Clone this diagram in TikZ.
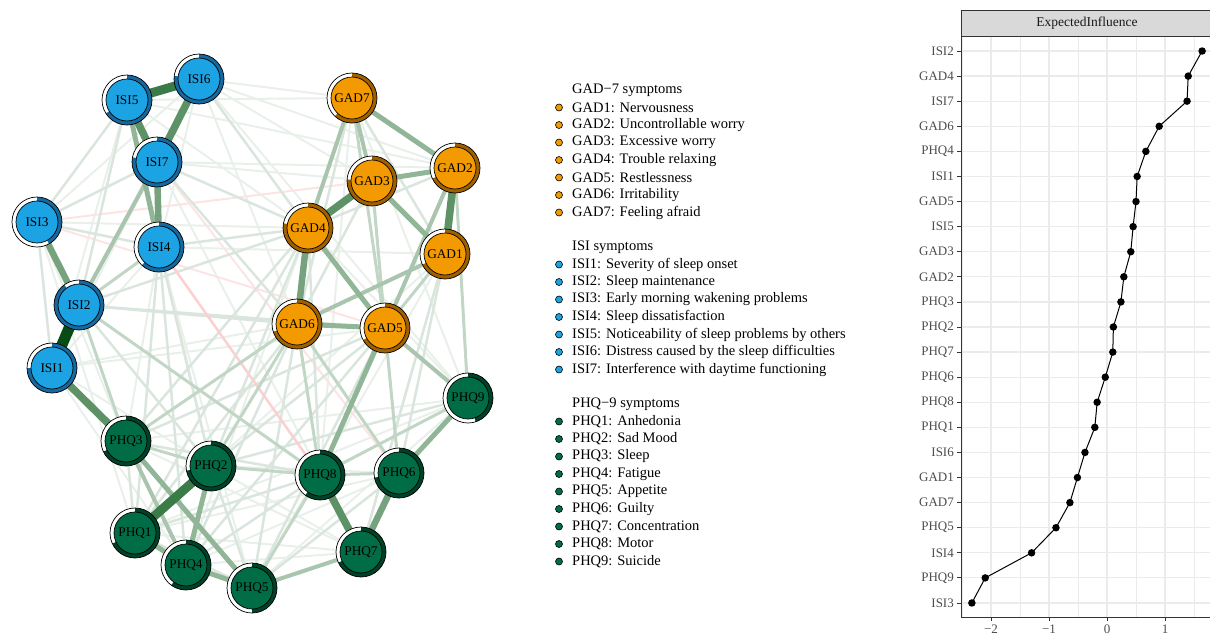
\documentclass[tikz,border=0pt]{standalone}
\usepackage{fontspec}
\setmainfont{Liberation Serif}
\pgfdeclarelayer{edges}
\pgfsetlayers{edges,main}
\definecolor{isiF}{RGB}{28,163,227}
\definecolor{isiA}{RGB}{22,104,160}
\definecolor{gadF}{RGB}{242,154,0}
\definecolor{gadA}{RGB}{160,96,0}
\definecolor{phqF}{RGB}{0,109,70}
\definecolor{phqA}{RGB}{0,66,40}
\definecolor{eg}{RGB}{10,90,25}
\definecolor{er}{RGB}{240,60,60}
\definecolor{gridc}{RGB}{235,235,235}
\definecolor{stripc}{RGB}{217,217,217}
\definecolor{axc}{RGB}{51,51,51}
\definecolor{labc}{RGB}{77,77,77}
\newcommand\netnode[7]{%
  \fill[white] (#2,#3) circle (25);
  \fill[#5] (#2,#3) -- ++(-90:25) arc[start angle=-90, delta angle={360*#6}, radius=25] -- cycle;
  \draw[line width=0.7pt] (#2,#3) circle (25);
  \node[netnd, fill=#4] (#1) at (#2,#3) {#7};
}
\tikzset{
  netnd/.style={circle, draw, line width=0.7pt, minimum size=42pt, inner sep=0pt, font=\fontsize{13.3}{13.3}\selectfont},
  ew1/.style={line width=2pt, eg!9!white},
  ew2/.style={line width=2.5pt, eg!15!white},
  ew3/.style={line width=3pt, eg!25!white},
  ew4/.style={line width=4pt, eg!35!white},
  ew5/.style={line width=5pt, eg!45!white},
  ew6/.style={line width=6.5pt, eg!56!white},
  ew7/.style={line width=7.5pt, eg!66!white},
  ew8/.style={line width=9pt, eg!80!white},
  ew9/.style={line width=11pt, eg!85!black},
  er1/.style={line width=2pt, er!14!white},
  er2/.style={line width=2.5pt, er!24!white},
  legtxt/.style={anchor=west, inner sep=0pt, font=\fontsize{14.5}{14.5}\selectfont},
  bul/.style={circle, draw, line width=0.6pt, minimum size=7pt, inner sep=0pt},
  ylab/.style={anchor=east, inner sep=0pt, text=labc, font=\fontsize{13}{13}\selectfont},
  ptd/.style={circle, fill=black, minimum size=7.5pt, inner sep=0pt},
}
\begin{document}
\begin{tikzpicture}[x=1pt, y=-1pt]
\useasboundingbox (0,0) rectangle (1210,635);
% ---------- network nodes ----------
\netnode{ISI1}{52}{368}{isiF}{isiA}{0.75}{ISI1}
\netnode{ISI2}{79}{305}{isiF}{isiA}{0.90}{ISI2}
\netnode{ISI3}{37}{222}{isiF}{isiA}{0.42}{ISI3}
\netnode{ISI4}{159}{247}{isiF}{isiA}{0.62}{ISI4}
\netnode{ISI5}{127}{100}{isiF}{isiA}{0.66}{ISI5}
\netnode{ISI6}{199}{79}{isiF}{isiA}{0.77}{ISI6}
\netnode{ISI7}{157}{162}{isiF}{isiA}{0.78}{ISI7}
\netnode{GAD1}{445}{254}{gadF}{gadA}{0.68}{GAD1}
\netnode{GAD2}{455}{168}{gadF}{gadA}{0.68}{GAD2}
\netnode{GAD3}{372}{181}{gadF}{gadA}{0.76}{GAD3}
\netnode{GAD4}{308}{228}{gadF}{gadA}{0.78}{GAD4}
\netnode{GAD5}{385}{328}{gadF}{gadA}{0.67}{GAD5}
\netnode{GAD6}{297}{324}{gadF}{gadA}{0.70}{GAD6}
\netnode{GAD7}{352}{98}{gadF}{gadA}{0.62}{GAD7}
\netnode{PHQ1}{135}{533}{phqF}{phqA}{0.68}{PHQ1}
\netnode{PHQ2}{211}{466}{phqF}{phqA}{0.72}{PHQ2}
\netnode{PHQ3}{126}{441}{phqF}{phqA}{0.68}{PHQ3}
\netnode{PHQ4}{186}{565}{phqF}{phqA}{0.60}{PHQ4}
\netnode{PHQ5}{252}{588}{phqF}{phqA}{0.50}{PHQ5}
\netnode{PHQ6}{399}{473}{phqF}{phqA}{0.72}{PHQ6}
\netnode{PHQ7}{361}{552}{phqF}{phqA}{0.68}{PHQ7}
\netnode{PHQ8}{320}{475}{phqF}{phqA}{0.60}{PHQ8}
\netnode{PHQ9}{468}{398}{phqF}{phqA}{0.45}{PHQ9}
% ---------- edges ----------
\begin{pgfonlayer}{edges}
\foreach \a/\b in {ISI1/ISI4, ISI1/ISI5, ISI1/ISI7, ISI2/ISI6, ISI4/ISI6, ISI3/ISI6, ISI6/GAD7, ISI6/GAD3, ISI6/GAD2, ISI5/GAD7, ISI5/GAD4, ISI7/GAD2, ISI7/GAD3, ISI4/GAD1, ISI3/GAD4, ISI1/GAD5, ISI1/GAD6, ISI1/PHQ2, ISI1/PHQ4, ISI4/PHQ5, ISI4/PHQ3, ISI3/PHQ3, ISI3/PHQ1, ISI6/PHQ9, ISI5/PHQ2, ISI7/PHQ7, PHQ1/PHQ7, PHQ1/PHQ6, PHQ4/PHQ6, PHQ4/PHQ7, PHQ2/PHQ7, PHQ2/PHQ6, PHQ3/PHQ9, PHQ1/PHQ9, PHQ5/PHQ9, PHQ3/PHQ7, GAD7/PHQ9, GAD7/PHQ8, GAD3/PHQ6, GAD4/PHQ9, GAD1/PHQ7, GAD2/PHQ8, PHQ5/GAD1, PHQ1/GAD1, PHQ4/GAD4, ISI5/GAD2, ISI6/GAD6}
  \draw[ew1] (\a) -- (\b);
\foreach \a/\b in {ISI3/GAD3, ISI7/PHQ6, ISI3/GAD5}
  \draw[er1] (\a) -- (\b);
\foreach \a/\b in {ISI3/ISI5, ISI3/ISI1, ISI3/ISI7, ISI3/ISI4, ISI2/ISI5, ISI2/GAD4, ISI2/GAD6, ISI2/GAD5, ISI2/PHQ2, ISI4/GAD4, ISI7/GAD4, ISI7/GAD6, ISI4/PHQ1, ISI4/PHQ2, ISI4/PHQ4, PHQ1/PHQ5, PHQ1/PHQ8, PHQ4/PHQ8, PHQ2/PHQ5, PHQ5/PHQ6, PHQ2/PHQ9, PHQ3/PHQ8, PHQ3/PHQ1, PHQ1/GAD4, PHQ1/GAD6, PHQ4/GAD6, PHQ4/GAD5, PHQ5/GAD5, PHQ5/GAD6, PHQ2/GAD4, PHQ2/GAD5, PHQ7/GAD1, PHQ6/GAD1, PHQ8/GAD4, PHQ3/GAD4, PHQ3/GAD5, GAD4/GAD2, GAD6/GAD3, GAD7/GAD1, GAD7/GAD6, ISI6/GAD4}
  \draw[ew2] (\a) -- (\b);
\foreach \a/\b in {ISI4/PHQ8}
  \draw[er2] (\a) -- (\b);
\foreach \a/\b in {ISI2/ISI4, ISI2/PHQ3, ISI2/PHQ8, PHQ2/PHQ8, PHQ3/PHQ2, PHQ8/PHQ6, PHQ5/PHQ8, PHQ3/GAD6, GAD2/PHQ9, GAD7/GAD5, GAD1/GAD5, GAD3/GAD5, GAD6/PHQ6, GAD5/PHQ6, PHQ2/GAD6, PHQ8/GAD6, PHQ9/PHQ8}
  \draw[ew3] (\a) -- (\b);
\foreach \a/\b in {GAD7/GAD4, GAD7/GAD3, GAD6/GAD1, GAD2/GAD5, ISI2/ISI7, PHQ3/PHQ4, PHQ5/PHQ7, GAD5/PHQ9}
  \draw[ew4] (\a) -- (\b);
\foreach \a/\b in {ISI5/ISI4, GAD7/GAD2, GAD3/GAD2, GAD3/GAD1, GAD4/GAD5, GAD6/GAD5, GAD5/PHQ8, PHQ2/PHQ4, PHQ1/PHQ4, PHQ4/PHQ5, PHQ3/PHQ5, PHQ9/PHQ6}
  \draw[ew5] (\a) -- (\b);
\foreach \a/\b in {ISI7/ISI4, ISI3/ISI2, GAD4/GAD6, PHQ6/PHQ7}
  \draw[ew6] (\a) -- (\b);
\foreach \a/\b in {ISI6/ISI7, ISI5/ISI7, ISI1/PHQ3, GAD2/GAD1, GAD3/GAD4, PHQ8/PHQ7}
  \draw[ew7] (\a) -- (\b);
\foreach \a/\b in {ISI5/ISI6, PHQ2/PHQ1}
  \draw[ew8] (\a) -- (\b);
\draw[ew9] (ISI2) -- (ISI1);
\end{pgfonlayer}
% ---------- legend ----------
\node[legtxt] (tg) at (572,90) {GAD−7 symptoms};
\foreach \t [count=\i] in {GAD1: Nervousness, GAD2: Uncontrollable worry, GAD3: Excessive worry, GAD4: Trouble relaxing, GAD5: Restlessness, GAD6: Irritability, GAD7: Feeling afraid} {
  \node[legtxt] (lg\i) at (572,{90+17.5*\i}) {\t};
  \node[bul, fill=gadF] (bg\i) at (559,{90+17.5*\i}) {};
}
\node[legtxt] (ti) at (572,247) {ISI symptoms};
\foreach \t [count=\i] in {ISI1: Severity of sleep onset, ISI2: Sleep maintenance, ISI3: Early morning wakening problems, ISI4: Sleep dissatisfaction, ISI5: Noticeability of sleep problems by others, ISI6: Distress caused by the sleep difficulties, ISI7: Interference with daytime functioning} {
  \node[legtxt] (li\i) at (572,{247+17.5*\i}) {\t};
  \node[bul, fill=isiF] (bi\i) at (559,{247+17.5*\i}) {};
}
\node[legtxt] (tp) at (572,404) {PHQ−9 symptoms};
\foreach \t [count=\i] in {PHQ1: Anhedonia, PHQ2: Sad Mood, PHQ3: Sleep, PHQ4: Fatigue, PHQ5: Appetite, PHQ6: Guilty, PHQ7: Concentration, PHQ8: Motor, PHQ9: Suicide} {
  \node[legtxt] (lp\i) at (572,{404+17.5*\i}) {\t};
  \node[bul, fill=phqF] (bp\i) at (559,{404+17.5*\i}) {};
}
% ---------- centrality plot ----------
\fill[white] (961,36) rectangle (1215,617);
\foreach \v in {-2.5,-1.5,-0.5,0.5,1.5}
  \draw[gridc, line width=0.6pt] ({1107+58*\v},36) -- ({1107+58*\v},617);
\foreach \v in {-2,-1,0,1}
  \draw[gridc, line width=1.2pt] ({1107+58*\v},36) -- ({1107+58*\v},617);
\foreach \i in {0,...,22}
  \draw[gridc, line width=1.2pt] (961,{51+25.09*\i}) -- (1215,{51+25.09*\i});
\draw[axc, line width=0.8pt] (961,36) rectangle (1215,617);
\fill[stripc] (961,10) rectangle (1215,36);
\draw[axc, line width=0.8pt] (961,10) rectangle (1215,36);
\node[inner sep=0pt, text=black!90, font=\fontsize{13.5}{13.5}\selectfont] (strip) at (1087,23) {ExpectedInfluence};
\foreach \lab/\v [count=\i from 0] in {ISI2/1.64, GAD4/1.40, ISI7/1.38, GAD6/0.90, PHQ4/0.67, ISI1/0.52, GAD5/0.50, ISI5/0.45, GAD3/0.41, GAD2/0.29, PHQ3/0.24, PHQ2/0.11, PHQ7/0.10, PHQ6/-0.03, PHQ8/-0.17, PHQ1/-0.21, ISI6/-0.38, GAD1/-0.51, GAD7/-0.64, PHQ5/-0.88, ISI4/-1.30, PHQ9/-2.10, ISI3/-2.33} {
  \draw[axc, line width=0.8pt] (957,{51+25.09*\i}) -- (961,{51+25.09*\i});
  \node[ylab] (yl\i) at (954,{51+25.09*\i}) {\lab};
  \node[ptd] (pt\i) at ({1107+58*\v},{51+25.09*\i}) {};
}
\foreach \i [evaluate=\i as \j using int(\i+1)] in {0,...,21}
  \draw[black, line width=1pt] (pt\i.center) -- (pt\j.center);
\foreach \lab/\v in {−2/-2, −1/-1, 0/0, 1/1} {
  \draw[axc, line width=0.8pt] ({1107+58*\v},617) -- ({1107+58*\v},621);
  \node[anchor=north, inner sep=0pt, text=labc, font=\fontsize{13}{13}\selectfont] at ({1107+58*\v},625) {\lab};
}
\end{tikzpicture}
\end{document}
